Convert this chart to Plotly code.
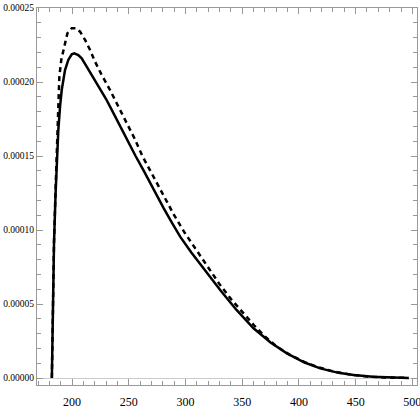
import plotly.graph_objects as go

# values
x_solid = [182.2, 183.0, 184.1, 185.5, 187.0, 187.9, 189.5, 190.9, 193.8, 196.7,
           199.7, 202.0, 205.5, 208.5, 212.9, 217.4, 220.3, 224.7, 230.0, 235.0,
           242.4, 250.0, 256.0, 262.9, 270.0, 280.6, 288.0, 295.3, 305.0, 315.0,
           330.6, 345.0, 360.0, 375.0, 389.4, 405.0, 418.8, 435.0, 448.2, 465.0,
           480.0, 496.7]
y_solid = [0.0, 0.40e-4, 0.91e-4, 1.25e-4, 1.52e-4, 1.676e-4, 1.84e-4, 1.946e-4, 2.081e-4, 2.149e-4,
           2.187e-4, 2.194e-4, 2.182e-4, 2.16e-4, 2.104e-4, 2.047e-4, 2.007e-4, 1.958e-4, 1.885e-4, 1.812e-4,
           1.698e-4, 1.59e-4, 1.50e-4, 1.405e-4, 1.30e-4, 1.15e-4, 1.05e-4, 0.955e-4, 0.85e-4, 0.75e-4,
           0.595e-4, 0.46e-4, 0.336e-4, 0.24e-4, 0.167e-4, 0.105e-4, 0.0655e-4, 0.035e-4, 0.020e-4, 0.008e-4,
           0.003e-4, 0.0005e-4]

x_dashed = [182.2, 183.0, 184.1, 185.5, 187.0, 188.8, 190.5, 192.3, 195.9, 199.7,
            203.5, 207.1, 211.5, 215.9, 220.3, 226.2, 233.5, 240.9, 248.3, 255.0,
            262.0, 271.7, 280.0, 290.0, 299.6, 310.0, 320.0, 330.6, 340.0, 349.7,
            360.0, 370.3, 380.0, 392.4, 405.0, 415.9, 430.0, 445.0, 460.0, 475.0,
            496.7]
y_dashed = [0.0, 0.40e-4, 0.92e-4, 1.28e-4, 1.62e-4, 2.036e-4, 2.15e-4, 2.216e-4, 2.329e-4, 2.363e-4,
            2.363e-4, 2.34e-4, 2.284e-4, 2.216e-4, 2.137e-4, 2.047e-4, 1.946e-4, 1.833e-4, 1.721e-4, 1.62e-4,
            1.50e-4, 1.36e-4, 1.24e-4, 1.10e-4, 0.978e-4, 0.86e-4, 0.74e-4, 0.628e-4, 0.535e-4, 0.448e-4,
            0.36e-4, 0.279e-4, 0.215e-4, 0.155e-4, 0.108e-4, 0.076e-4, 0.045e-4, 0.024e-4, 0.011e-4, 0.004e-4,
            0.0005e-4]

axis_grey = '#999999'

fig = go.Figure()
fig.add_trace(go.Scatter(x=x_dashed, y=y_dashed, mode='lines',
                         line=dict(color='black', width=2.5, dash='5px,4px')))
fig.add_trace(go.Scatter(x=x_solid, y=y_solid, mode='lines',
                         line=dict(color='black', width=2.5)))

fig.update_layout(
    width=420, height=409,
    margin=dict(l=37, r=3, t=8, b=24),
    paper_bgcolor='white', plot_bgcolor='white',
    showlegend=False,
    font=dict(family='Liberation Serif', size=11, color='black'),
)
fig.update_xaxes(
    range=[169.1, 504.1], tick0=200, dtick=50,
    ticks='inside', ticklen=6, tickcolor=axis_grey,
    minor=dict(dtick=10, ticks='inside', ticklen=4, tickcolor=axis_grey),
    showline=True, linecolor=axis_grey, linewidth=1, mirror='allticks',
    showgrid=False, zeroline=False, ticklabelstandoff=6,
    tickfont=dict(size=12), automargin=False, ticklabeloverflow='allow',
)
fig.update_yaxes(
    range=[-0.0000047, 0.00025], tick0=0, dtick=0.00005, tickformat='.5f',
    ticks='inside', ticklen=6, tickcolor=axis_grey,
    minor=dict(dtick=0.00001, ticks='inside', ticklen=4, tickcolor=axis_grey),
    showline=True, linecolor=axis_grey, linewidth=1, mirror='allticks',
    showgrid=False, zeroline=True, zerolinecolor='#cccccc', zerolinewidth=1,
    ticklabelstandoff=0, automargin=False, ticklabeloverflow='allow',
    tickfont=dict(size=9.5),
)

# the page body has an 8px default margin; drop it so the figure starts at 0,0
fig.write_html("out.html", config={'displayModeBar': False},
               post_script="document.body.style.margin='0';")
